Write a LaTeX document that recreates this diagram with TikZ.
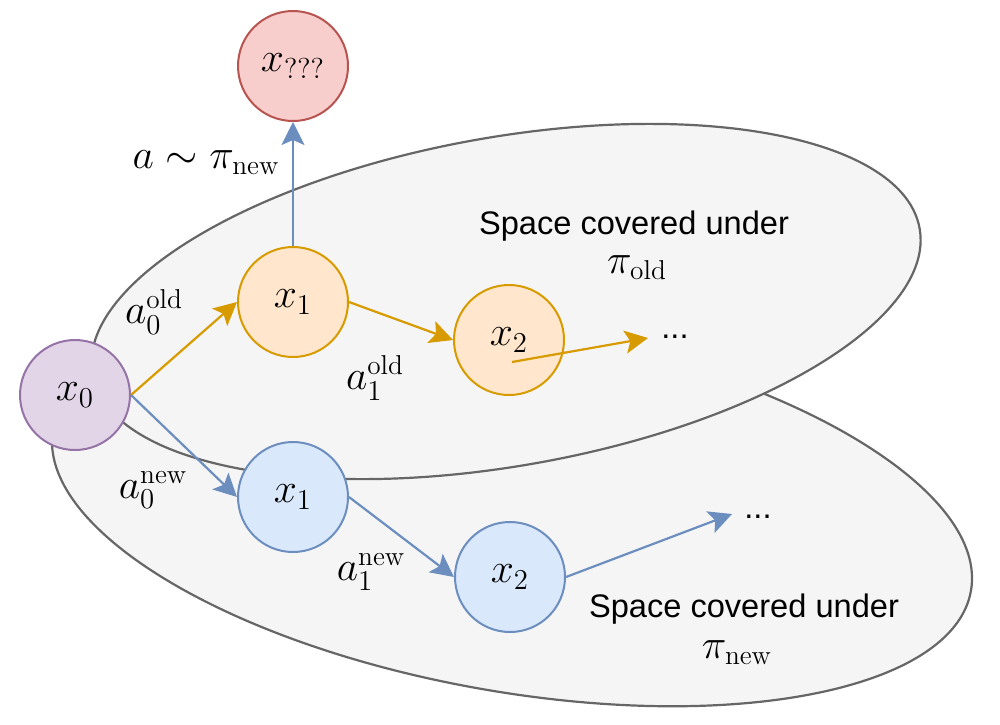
\documentclass[tikz,border=0pt]{standalone}
\usepackage{fontspec}
\setsansfont{Liberation Sans}
\usetikzlibrary{arrows.meta}
\definecolor{regionfill}{HTML}{F5F5F5}
\definecolor{regionline}{HTML}{666666}
\definecolor{orfill}{HTML}{FFE6CC}
\definecolor{orline}{HTML}{D79B00}
\definecolor{blfill}{HTML}{DAE8FC}
\definecolor{blline}{HTML}{6C8EBF}
\definecolor{pufill}{HTML}{E1D5E7}
\definecolor{puline}{HTML}{9673A6}
\definecolor{rdfill}{HTML}{F8CECC}
\definecolor{rdline}{HTML}{B85450}
\newcommand{\mymathsize}{\fontsize{19.5}{23}\selectfont}
\newcommand{\mylabsize}{\fontsize{16.3}{20}\selectfont\sffamily}
\begin{document}
\begin{tikzpicture}[x=0.5pt,y=-0.5pt,
  region/.style={fill=regionfill, draw=regionline, line width=1.1pt},
  state/.style={circle, line width=1pt, minimum size=55pt, inner sep=0pt, font=\mymathsize},
  ostate/.style={state, fill=orfill, draw=orline},
  bstate/.style={state, fill=blfill, draw=blline},
  pstate/.style={state, fill=pufill, draw=puline},
  rstate/.style={state, fill=rdfill, draw=rdline},
  conn/.style={line width=1.1pt, -{Stealth[length=11.5pt, width=11.5pt, inset=2.5pt]}},
  oarrow/.style={conn, draw=orline, fill=orline},
  barrow/.style={conn, draw=blline, fill=blline},
  mathlabel/.style={font=\mymathsize, inner sep=0pt},
  textlabel/.style={font=\mylabsize, inner sep=0pt, anchor=base},
]
\useasboundingbox (0,0) rectangle (1000,724);
% regions
\draw[region, rotate around={-10:(512,510)}] (512,510) ellipse [x radius=233pt, y radius=90.75pt];
\draw[region, rotate around={10:(506,301.5)}] (506,301.5) ellipse [x radius=210pt, y radius=82.2pt];
% region texts
\node[textlabel] (oldtext) at (634,234) {Space covered under};
\node[mathlabel, anchor=base] (oldpi) at (637,273) {$\pi_{\mathrm{old}}$};
\node[textlabel] (newtext) at (744,617) {Space covered under};
\node[mathlabel, anchor=base] (newpi) at (737,658) {$\pi_{\mathrm{new}}$};
% states
\node[pstate] (x0) at (75,395) {$x_0$};
\node[ostate] (o1) at (293,302) {$x_1$};
\node[ostate] (o2) at (509,340) {$x_2$};
\node[bstate] (b1) at (293,497) {$x_1$};
\node[bstate] (b2) at (510,577) {$x_2$};
\node[rstate] (xq) at (293,66) {$x_{???}$};
% continuation marks
\node[textlabel] (odots) at (675,338) {...};
\node[textlabel] (bdots) at (758,518) {...};
\coordinate (ostart) at (512,362);
\coordinate (oend) at (648,338);
\coordinate (bend) at (732,514);
% connectors
\draw[oarrow] (x0.east) -- (o1.west);
\draw[oarrow] (o1.east) -- (o2.west);
\draw[oarrow] (ostart) -- (oend);
\draw[barrow] (x0.east) -- (b1.west);
\draw[barrow] (b1.east) -- (b2.west);
\draw[barrow] (b2.east) -- (bend);
\draw[barrow] (o1.north) -- (xq.south);
% action labels
\node[mathlabel] (a0old) at (154,312) {$a_0^{\mathrm{old}}$};
\node[mathlabel] (a1old) at (375,378) {$a_1^{\mathrm{old}}$};
\node[mathlabel] (a0new) at (153,490) {$a_0^{\mathrm{new}}$};
\node[mathlabel] (a1new) at (371,572) {$a_1^{\mathrm{new}}$};
\node[mathlabel] (apinew) at (206,163) {$a\sim\pi_{\mathrm{new}}$};
\end{tikzpicture}
\end{document}
